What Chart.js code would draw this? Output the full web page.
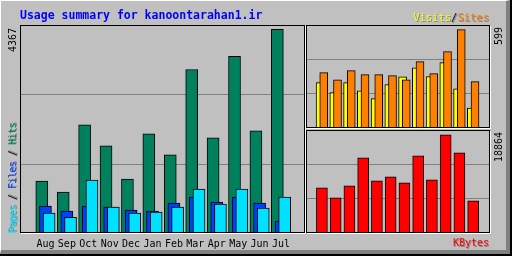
<!DOCTYPE html>
<html>
<head>
<meta charset="utf-8">
<script src="https://cdn.jsdelivr.net/npm/chart.js@4.4.1/dist/chart.umd.min.js"></script>
<style>
  html, body { margin: 0; padding: 0; background: #c0c0c0; }
  #frame { position: absolute; left: 0; top: 0; width: 512px; height: 256px; box-sizing: border-box; border-right: 2px solid #000; border-bottom: 2px solid #000; }
  #bevel { position: absolute; left: 0; top: 0; right: 0; bottom: 0; border-top: 1px solid #fff; border-left: 1px solid #fff; border-right: 4px solid #808080; border-bottom: 4px solid #808080; }
  canvas { position: absolute; }
  .panel { position: absolute; box-sizing: border-box; border: 1px solid #000; box-shadow: 1px 1px 0 #fff; }
  .txt { position: absolute; font-family: "DejaVu Sans Mono", monospace; font-size: 10px; line-height: 12px; white-space: nowrap; }
  .up { writing-mode: vertical-rl; transform: rotate(180deg); }
  .sh { text-shadow: 1px 1px 0 #808080; }
</style>
</head>
<body>
<div id="frame"><div id="bevel"></div></div>

<canvas id="mainChart" width="285" height="229" style="left:20px; top:25px"></canvas>
<canvas id="visitChart" width="184" height="103" style="left:306px; top:25px"></canvas>
<canvas id="kbyteChart" width="184" height="103" style="left:306px; top:130px"></canvas>

<div class="panel" style="left:20px; top:25px; width:285px; height:208px"></div>
<div class="panel" style="left:306px; top:25px; width:184px; height:103px"></div>
<div class="panel" style="left:306px; top:130px; width:184px; height:103px"></div>

<div class="txt" style="left:20px; top:9px; font-size:11.5px; font-weight:bold; color:#0000ff">Usage summary for kanoontarahan1.ir</div>
<div class="txt sh" style="right:23px; top:11px; font-size:10.5px"><span style="color:#ffff00">Visits</span><span style="color:#000">/</span><span style="color:#ff8000">Sites</span></div>
<div class="txt sh" style="right:23px; top:237px; color:#ff0000">KBytes</div>
<div class="txt sh up" style="left:7px; bottom:23px; letter-spacing:-0.5px"><span style="color:#00e0ff">Pages</span><span style="color:#000"> / </span><span style="color:#0040ff">Files</span><span style="color:#000"> / </span><span style="color:#00805c">Hits</span></div>
<div class="txt up" id="hitsMax" style="left:7px; top:28px; color:#000"></div>
<div class="txt up" id="sitesMax" style="left:493px; top:27px; color:#000"></div>
<div class="txt up" id="kbytesMax" style="left:493px; top:132px; color:#000"></div>

<script>
const months = [`Aug`, `Sep`, `Oct`, `Nov`, `Dec`, `Jan`, `Feb`, `Mar`, `Apr`, `May`, `Jun`, `Jul`]
const hits = [1130, 893, 2330, 1880, 1172, 2137, 1687, 3509, 2051, 3788, 2201, 4367]
const files = [594, 487, 594, 573, 508, 487, 659, 787, 680, 787, 659, 273]
const pages = [444, 358, 1152, 573, 444, 466, 573, 958, 637, 958, 551, 787]
const visits = [276, 215, 276, 227, 179, 264, 311, 367, 313, 398, 239, 122]
const sites = [337, 294, 349, 325, 325, 319, 294, 404, 331, 465, 599, 282]
const kbytes = [8693, 6774, 9077, 14450, 10036, 10804, 9653, 14834, 10228, 18864, 15410, 6198]

// max values written on the side of each panel
const hitsMax = Math.max(...hits)
const sitesMax = Math.max(...sites)
const kbytesMax = Math.max(...kbytes)
document.getElementById(`hitsMax`).textContent = hitsMax
document.getElementById(`sitesMax`).textContent = sitesMax
document.getElementById(`kbytesMax`).textContent = kbytesMax

const font = { family: `DejaVu Sans Mono`, size: 10 }

const barSet = (values, shift, color, width) => ({
  data: values.map((v, i) => ({ x: i + shift, y: v })),
  backgroundColor: color,
  borderColor: `#000`,
  borderWidth: 1,
  borderSkipped: false,
  barThickness: width,
  grouped: false,
})

const makeChart = (id, datasets, xMin, xMax, yMax, showMonths) =>
  new Chart(document.getElementById(id), {
    type: `bar`,
    data: { datasets },
    options: {
      responsive: false,
      animation: false,
      devicePixelRatio: 1,
      layout: { padding: 0 },
      plugins: { legend: { display: false }, tooltip: { enabled: false } },
      scales: {
        x: {
          type: `linear`,
          min: xMin,
          max: xMax,
          display: showMonths,
          afterBuildTicks: axis => { axis.ticks = months.map((m, i) => ({ value: i })) },
          ticks: { callback: v => months[v], autoSkip: false, maxRotation: 0, font, color: `#000`, padding: 4 },
          grid: { display: false, drawTicks: false },
          border: { display: false },
        },
        y: {
          min: 0,
          max: yMax,
          afterBuildTicks: axis => { axis.ticks = [1, 2].map(k => ({ value: yMax * k / 3 })) },
          ticks: { display: false },
          grid: { color: `#808080`, drawTicks: false },
          border: { display: false },
        },
      },
    },
  })

// pages on top, then files, hits behind
makeChart(`mainChart`, [
  barSet(pages, 0.171, `#00e0ff`, 12),
  barSet(files, 0, `#0040ff`, 12),
  barSet(hits, -0.171, `#00805c`, 12),
], -0.634, 11.566, hitsMax * 1.021, true)

makeChart(`visitChart`, [
  barSet(sites, 0.133, `#ff8000`, 8),
  barSet(visits, -0.133, `#ffff00`, 8),
], -0.6, 11.667, sitesMax * 1.047, false)

makeChart(`kbyteChart`, [
  barSet(kbytes, 0, `#ff0000`, 11),
], -0.6, 11.667, kbytesMax * 1.048, false)
</script>
</body>
</html>
